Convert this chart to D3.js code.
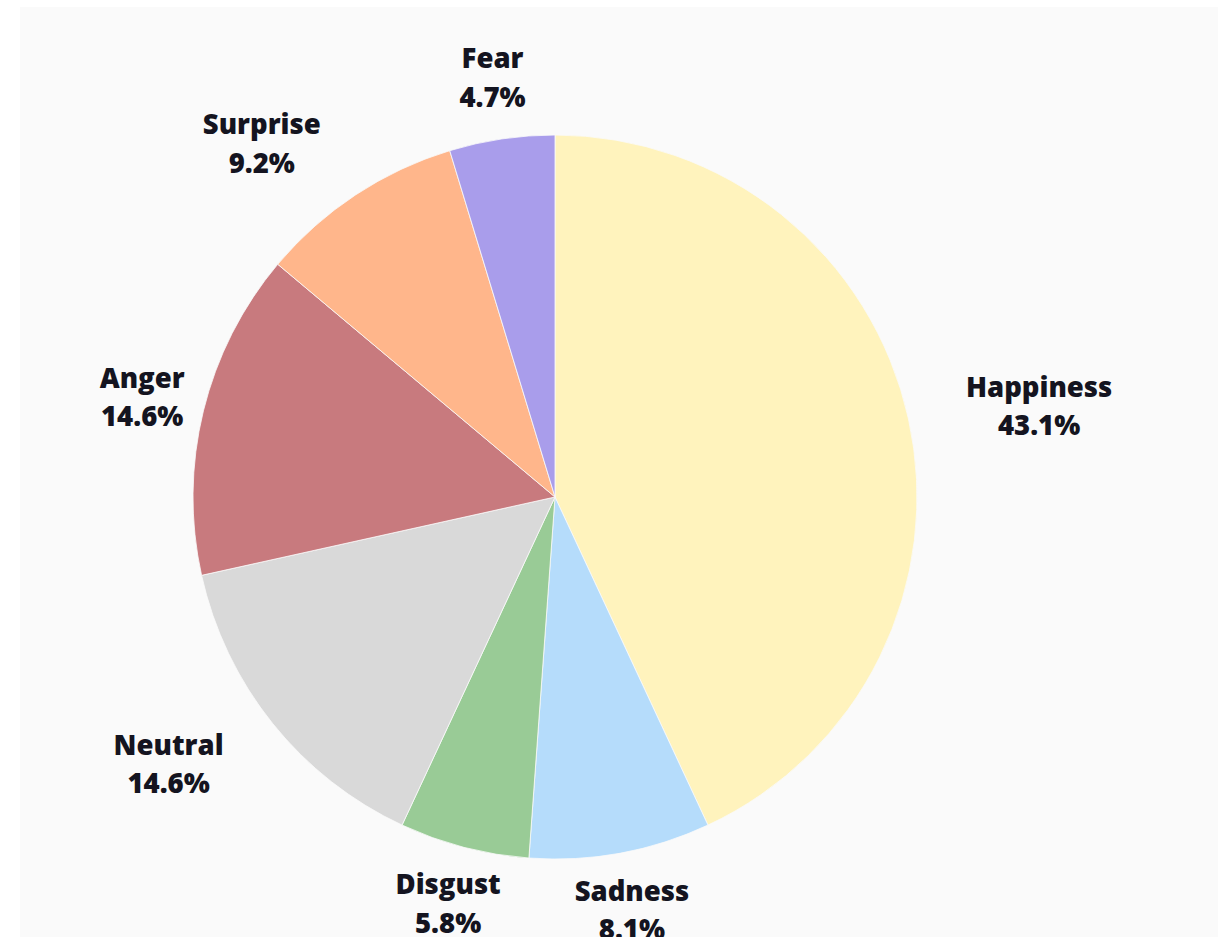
<!DOCTYPE html>
<html>
<head>
<meta charset="utf-8">
<script src="https://cdn.jsdelivr.net/npm/d3@7/dist/d3.min.js"></script>
<style>
  html, body { margin: 0; padding: 0; background: #ffffff; }
  #chart { position: absolute; left: 20px; top: 7px; width: 1198px; height: 930px; background: #fafafa; }
  svg { display: block; }
</style>
</head>
<body>
<div id="chart"></div>
<script>
const emotions = ["Happiness", "Sadness", "Disgust", "Neutral", "Anger", "Surprise", "Fear"];
const shares = [43.1, 8.1, 5.8, 14.6, 14.6, 9.2, 4.7];
const colors = ["#fff3bd", "#b5dcfb", "#99cb96", "#d9d9d9", "#c87a7e", "#ffb68b", "#a99deb"];

const width = 1198, height = 930;
const cx = 535, cy = 490, radius = 362;

const svg = d3.select("#chart").append("svg")
  .attr("width", width)
  .attr("height", height);

const rows = emotions.map((name, i) => ({ name, value: shares[i], color: colors[i] }));

const pie = d3.pie().sort(null).value(d => d.value);
const arc = d3.arc().innerRadius(0).outerRadius(radius);
const labelArc = d3.arc().innerRadius(425).outerRadius(425);

const g = svg.append("g").attr("transform", `translate(${cx},${cy})`);
const arcs = pie(rows);

g.selectAll("path")
  .data(arcs)
  .join("path")
  .attr("d", arc)
  .attr("fill", d => d.data.color)
  .attr("stroke", "#fafafa")
  .attr("stroke-width", 0.8);

// the original puts some label blocks flush against the point, others centred on it
const anchorFor = { Happiness: "start", Neutral: "end", Surprise: "end" };

const label = g.selectAll("text")
  .data(arcs)
  .join("text")
  .attr("text-anchor", "middle")
  .attr("font-family", "'Open Sans', sans-serif")
  .attr("font-weight", 800)
  .attr("font-size", 27.5)
  .attr("fill", "#141420");

label.append("tspan")
  .attr("x", 0)
  .attr("dy", "-0.3em")
  .text(d => d.data.name);

label.append("tspan")
  .attr("x", 0)
  .attr("dy", "1.4em")
  .text(d => d.data.value.toFixed(1) + "%");

label.attr("transform", function (d) {
  const [x, y] = labelArc.centroid(d);
  const w = this.getBBox().width;
  const a = anchorFor[d.data.name];
  const shift = a === "start" ? w / 2 - 4 : a === "end" ? -w / 2 : 0;
  const lift = y > 300 ? -6 : 0;
  return `translate(${x + shift},${y + lift})`;
});
</script>
</body>
</html>
